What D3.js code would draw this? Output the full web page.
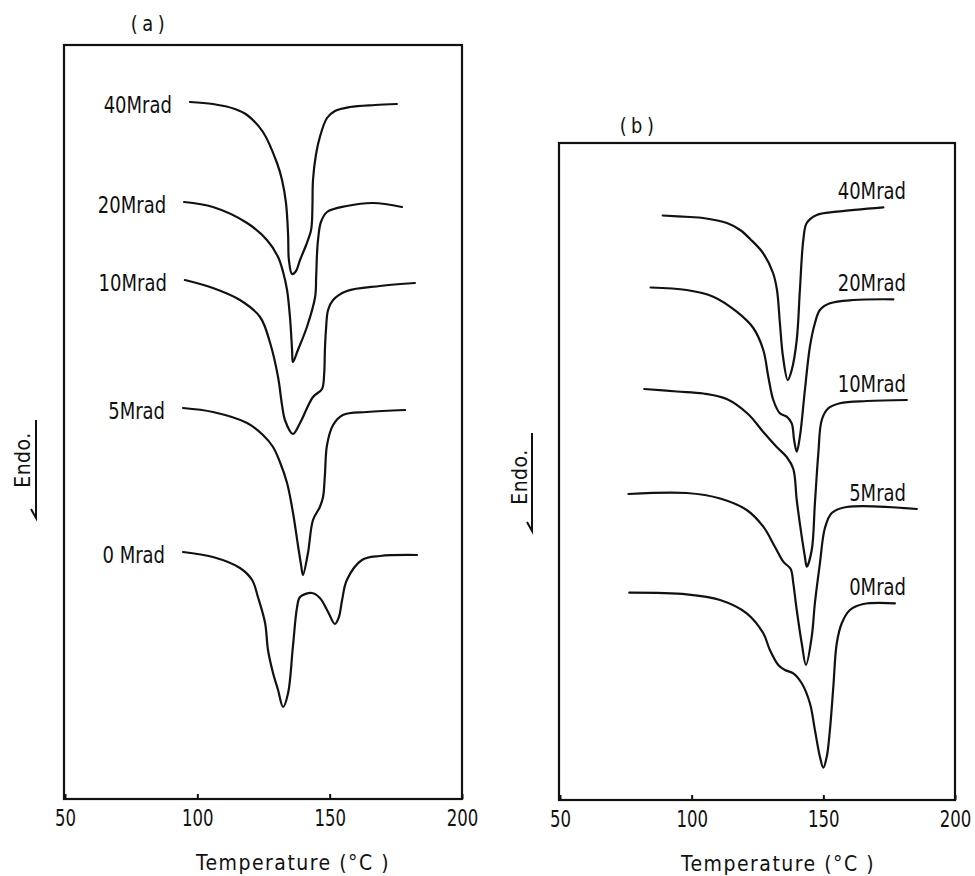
<!DOCTYPE html>
<html>
<head>
<meta charset="utf-8">
<script src="https://cdn.jsdelivr.net/npm/d3@7"></script>
<style>
  html, body { margin: 0; padding: 0; background: #fff; }
  svg { display: block; }
  text { font-family: "DejaVu Sans Condensed", "DejaVu Sans", sans-serif; fill: #111; }
</style>
</head>
<body>
<svg id="chart" width="975" height="876"></svg>
<script>
// DSC melting endotherms of irradiated samples, two sample series (a) and (b).
// Each trace: [temperature (°C), heat-flow signal (arbitrary units, endotherm downward)]

const tickValues = [50, 100, 150, 200];

// ---- Series (a) ----
const dosesA = ["40Mrad", "20Mrad", "10Mrad", "5Mrad", "0 Mrad"];
const a40 = [[97.2,697],[105.9,695],[114.2,690],[118.8,684],[124.8,667],[130.1,636],[132.0,619],[133.5,596],[134.3,564],[134.6,539],[135.8,525],[137.3,528],[138.8,539],[141.1,554],[142.9,568],[143.3,577],[143.5,594],[143.7,619],[144.8,644],[146.3,662],[149.0,681],[152.0,688],[157.7,692],[167.1,694],[175.4,695]];
const a20 = [[95.0,597],[105.9,592],[118.8,576],[126.3,559],[130.5,542],[132.4,527],[133.9,509],[135.0,482],[135.8,449],[136.1,437],[138.0,449],[141.4,472],[144.5,502],[144.9,522],[145.2,544],[145.6,559],[146.7,577],[149.0,587],[156.5,593],[166.4,596],[177.3,592]];
const a10 = [[95.3,519],[105.9,511],[116.1,499],[123.7,482],[127.5,456],[130.5,422],[132.0,394],[133.1,379],[136.1,365],[138.8,376],[143.7,402],[147.1,410],[147.9,424],[148.2,449],[148.6,469],[149.4,489],[151.3,499],[156.5,508],[169.0,513],[182.2,516]];
const a5  = [[94.6,391],[105.9,387],[118.8,376],[124.8,364],[128.6,352],[131.2,337],[133.9,316],[136.1,287],[138.0,254],[139.2,234],[139.9,224],[141.8,246],[143.7,279],[146.3,292],[147.5,302],[148.2,324],[149.0,354],[151.3,374],[155.0,384],[164.1,387],[178.5,389]];
const a0  = [[94.6,247],[105.9,242],[116.1,231],[120.7,219],[122.9,202],[125.6,176],[126.7,149],[128.6,126],[130.5,109],[132.4,92],[134.3,106],[136.1,152],[137.7,192],[138.8,202],[143.3,206],[146.3,201],[149.4,187],[152.0,175],[153.5,182],[154.7,199],[156.5,219],[162.2,239],[169.0,243],[183.0,244]];

// ---- Series (b) ----
const dosesB = ["40Mrad", "20Mrad", "10Mrad", "5Mrad", "0Mrad"];
const b40 = [[89.0,584.5],[99.4,583],[104.3,582],[113.4,577],[118.4,570],[122.2,561],[127.1,547],[130.9,527],[132.4,510],[133.5,477],[134.7,443],[136.5,420],[138.0,430],[139.9,460],[141.1,510],[142.4,560],[143.7,577],[147.5,585],[155.1,588.3],[172.8,592.7]];
const b20 = [[84.4,512.5],[98.1,510],[108.2,503.3],[117.1,488.3],[123.4,472],[127.2,450],[129.1,423.3],[131.0,400],[133.5,386.7],[136.1,383.3],[138.0,376.7],[138.9,360],[139.9,348.3],[141.1,363.3],[143.0,410],[144.9,453.3],[146.8,476.7],[148.7,490],[152.5,496.7],[161.4,500],[176.6,500.7]];
const b10 = [[82.0,411],[94.4,408.5],[104.4,406.5],[113.3,401],[121.4,386],[127.2,368],[132.3,353],[136.1,343],[138.6,331],[139.9,300],[141.8,263.3],[143.0,243.3],[143.7,233.3],[145.6,250],[146.8,296.7],[148.1,346.7],[149.4,380],[151.9,391.7],[156.3,396.7],[166.5,399],[181.7,400]];
const b5  = [[76.0,306],[98.1,307],[110.8,301.5],[120.9,290],[127.2,273.3],[131.6,253.3],[134.8,238.3],[137.6,231],[138.6,216.7],[139.9,190],[141.8,156.7],[143.4,135],[145.6,163.3],[146.8,197],[148.7,236.7],[150.6,272],[153.2,287],[158.9,293],[185.5,291]];
const b0  = [[76.3,207.3],[98.1,205.7],[110.8,200],[120.9,186.7],[127.2,166.7],[129.7,150],[132.9,135],[135.4,130],[138.6,126.7],[141.8,116.7],[144.9,96.7],[146.8,70],[148.7,43.3],[150.0,32.3],[151.3,43.3],[152.5,70],[153.8,113.3],[155.1,156.7],[157.0,176.7],[160.1,190],[165.2,196],[177.2,196.7]];

const tracesA = [a40, a20, a10, a5, a0];
const tracesB = [b40, b20, b10, b5, b0];

// ---- Layout ----
const svg = d3.select("#chart");
svg.append("rect").attr("width", 975).attr("height", 876).attr("fill", "#fff");

// narrow lettering: glyphs are squeezed horizontally
const squeeze = (x, y, s) => `translate(${x},${y}) scale(${s},1)`;

const panels = [
  { tag: "(a)", frame: { x0: 64, x1: 462, y0: 45, y1: 799 }, xr: [65, 462], ymax: 754,
    traces: tracesA, doses: dosesA, labelMode: "left",
    tagPos: [150, 31], endo: { tx: 30, ty: 460, ax: 36, ay0: 420, ay1: 518 }, title: [293, 870] },
  { tag: "(b)", frame: { x0: 559, x1: 955, y0: 143, y1: 800 }, xr: [560, 955], ymax: 657,
    traces: tracesB, doses: dosesB, labelMode: "above",
    tagPos: [639, 133], endo: { tx: 527, ty: 477, ax: 532, ay0: 433, ay1: 531 }, title: [778, 871] }
];

panels.forEach(p => {
  const g = svg.append("g");
  const x = d3.scaleLinear().domain([50, 200]).range(p.xr);
  const y = d3.scaleLinear().domain([0, p.ymax]).range([p.frame.y1, p.frame.y0]);

  // frame
  g.append("rect")
    .attr("x", p.frame.x0).attr("y", p.frame.y0)
    .attr("width", p.frame.x1 - p.frame.x0).attr("height", p.frame.y1 - p.frame.y0)
    .attr("fill", "none").attr("stroke", "#111").attr("stroke-width", 2.2);

  // temperature axis with inward ticks
  const ax = g.append("g")
    .attr("transform", `translate(0,${p.frame.y1})`)
    .call(d3.axisBottom(x).tickValues(tickValues).tickFormat(d3.format("d"))
      .tickSizeInner(-5).tickSizeOuter(0).tickPadding(11));
  ax.select(".domain").remove();
  ax.selectAll(".tick line").attr("stroke", "#111").attr("stroke-width", 2);
  ax.selectAll(".tick text")
    .attr("fill", "#111")
    .attr("transform", "scale(0.8,1)")
    .style("font-family", '"DejaVu Sans Condensed", "DejaVu Sans", sans-serif')
    .style("font-size", "23px");

  // traces
  const line = d3.line()
    .x(d => x(d[0])).y(d => y(d[1]))
    .curve(d3.curveCatmullRom.alpha(0.5));

  g.selectAll("path.trace").data(p.traces).join("path")
    .attr("class", "trace")
    .attr("d", line)
    .attr("fill", "none").attr("stroke", "#111")
    .attr("stroke-width", 2.2).attr("stroke-linejoin", "round").attr("stroke-linecap", "round");

  // dose labels
  g.selectAll("text.dose").data(p.traces).join("text")
    .attr("class", "dose")
    .attr("text-anchor", "end")
    .style("font-size", "23px")
    .attr("transform", d => p.labelMode === "left"
      ? squeeze(x(d[0][0]) - 18, y(d[0][1]) + 11, 0.87)
      : squeeze(906, y(d[d.length - 1][1]) - 8, 0.87))
    .text((d, i) => p.doses[i]);

  // panel tag
  g.append("text")
    .attr("transform", squeeze(p.tagPos[0], p.tagPos[1], 0.9))
    .attr("text-anchor", "middle")
    .style("font-size", "22px").style("letter-spacing", "5px")
    .text(p.tag);

  // Endo. label with half-headed arrow pointing down
  g.append("text")
    .attr("transform", `translate(${p.endo.tx},${p.endo.ty}) rotate(-90)`)
    .attr("text-anchor", "middle")
    .style("font-size", "21px").style("letter-spacing", "0.5px")
    .text("Endo.");
  g.append("path")
    .attr("d", `M${p.endo.ax},${p.endo.ay0}V${p.endo.ay1}L${p.endo.ax - 5},${p.endo.ay1 - 9}`)
    .attr("fill", "none").attr("stroke", "#111").attr("stroke-width", 2);

  // axis title
  g.append("text")
    .attr("x", p.title[0]).attr("y", p.title[1])
    .attr("text-anchor", "middle")
    .style("font-size", "21px").style("letter-spacing", "1.5px")
    .text("Temperature (°C )");
});
</script>
</body>
</html>
